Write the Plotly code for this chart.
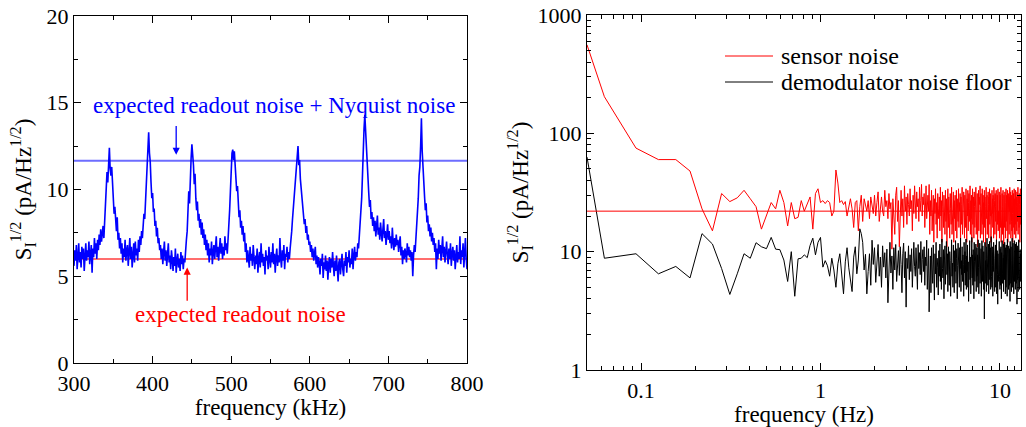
import numpy as np
import plotly.graph_objects as go

# ---------------- left panel data (frequency in kHz, 1 kHz steps) ----------------
freq_khz = np.arange(300, 801, 1)
noise_khz = [
    5.6, 6.5, 5.9, 6.8, 5.4, 6.2, 6.9, 5.8, 6.4, 5.5,
    6.7, 6.0, 6.6, 5.3, 6.3, 6.9, 5.9, 6.5, 6.1, 7.0,
    5.7, 6.4, 6.8, 5.2, 6.6, 6.1, 7.2, 6.3, 6.9, 6.0,
    7.1, 6.5, 7.4, 6.8, 7.7, 7.0, 7.5, 7.9, 7.2, 8.3,
    8.9, 10.2, 11.0, 10.4, 11.8, 12.4, 11.2, 10.8, 11.3, 10.1,
    9.4, 8.6, 9.0, 8.0, 7.6, 8.4, 7.1, 7.5, 6.6, 7.2,
    6.3, 6.9, 5.8, 6.6, 6.1, 7.1, 5.9, 6.5, 6.8, 5.6,
    6.4, 7.2, 6.0, 6.7, 5.5, 6.3, 6.9, 5.8, 7.0, 6.2,
    6.6, 5.9, 7.1, 6.4, 7.3, 6.8, 7.6, 7.2, 8.0, 8.6,
    8.3, 9.4, 10.3, 11.8, 12.4, 13.3, 12.1, 11.6, 10.4, 9.5,
    9.8, 8.7, 8.9, 7.9, 8.2, 7.3, 7.8, 6.9, 7.2, 6.5,
    6.8, 6.0, 6.6, 5.7, 6.4, 7.0, 5.9, 6.5, 5.6, 6.3,
    6.9, 5.8, 6.2, 5.4, 6.5, 6.0, 5.3, 6.1, 5.6, 6.6,
    5.2, 5.9, 6.3, 5.5, 6.0, 5.3, 6.4, 5.7, 6.2, 5.4,
    6.0, 5.8, 6.8, 7.1, 7.6, 8.4, 9.9, 9.2, 11.0, 11.8,
    12.6, 12.1, 11.4, 10.3, 10.9, 9.5, 8.8, 9.3, 8.2, 8.6,
    7.8, 8.3, 7.4, 8.1, 7.2, 7.7, 6.8, 7.4, 6.5, 7.1,
    6.2, 6.9, 5.8, 6.6, 6.2, 7.0, 5.7, 6.4, 6.8, 6.0,
    6.6, 7.3, 6.1, 6.7, 5.9, 6.5, 7.2, 6.3, 6.9, 6.0,
    6.7, 6.2, 7.3, 6.5, 6.9, 6.3, 7.5, 8.1, 8.8, 9.9,
    11.2, 12.1, 12.3, 11.7, 12.2, 11.5, 10.6, 9.9, 10.2, 8.9,
    8.4, 8.8, 7.8, 8.2, 7.4, 7.9, 7.0, 7.5, 6.4, 6.9,
    5.8, 6.5, 6.1, 5.5, 6.7, 5.9, 6.3, 5.6, 6.8, 6.0,
    5.4, 6.2, 5.7, 6.6, 5.2, 6.0, 6.4, 5.5, 6.9, 5.8,
    6.3, 5.6, 6.1, 5.1, 6.5, 5.9, 6.2, 5.4, 6.7, 6.0,
    5.5, 6.4, 5.8, 6.9, 5.7, 6.3, 5.2, 6.1, 6.6, 5.6,
    6.2, 5.8, 7.2, 6.0, 5.5, 6.5, 5.9, 6.8, 5.4, 6.3,
    6.1, 6.7, 5.8, 6.4, 6.0, 6.6, 7.0, 7.6, 8.3, 8.9,
    9.6, 10.5, 11.1, 11.8, 12.0, 12.5, 11.4, 11.7, 10.6, 10.1,
    9.7, 9.1, 8.5, 8.0, 8.3, 7.5, 7.9, 7.1, 7.4, 6.8,
    7.0, 6.4, 6.8, 6.1, 6.6, 5.9, 6.3, 6.7, 5.7, 6.2,
    5.5, 6.1, 5.8, 5.1, 6.0, 5.6, 6.3, 4.9, 5.8, 5.4,
    6.2, 5.3, 5.9, 4.8, 5.7, 6.1, 5.2, 6.0, 5.5, 6.4,
    5.6, 5.0, 5.9, 5.3, 6.2, 5.5, 4.7, 5.8, 6.0, 5.1,
    5.7, 6.3, 5.4, 5.0, 5.9, 5.6, 6.4, 5.2, 6.1, 5.8,
    6.5, 5.5, 6.0, 5.7, 6.6, 5.4, 6.2, 6.7, 5.9, 6.4,
    6.1, 6.9, 6.6, 7.3, 7.8, 8.6, 9.5, 10.8, 12.6, 13.5,
    14.3, 13.2, 12.4, 11.3, 10.5, 9.8, 9.0, 9.4, 8.3, 8.7,
    7.9, 8.4, 7.6, 8.2, 7.3, 7.9, 8.5, 7.4, 7.8, 7.1,
    8.1, 7.5, 7.0, 7.7, 8.3, 7.2, 7.6, 6.8, 7.4, 8.0,
    7.1, 7.6, 6.9, 7.3, 6.6, 7.8, 7.0, 6.5, 7.2, 6.7,
    7.4, 6.8, 7.1, 6.4, 6.9, 7.3, 6.2, 6.7, 5.7, 6.5,
    6.0, 6.6, 6.3, 5.8, 6.9, 6.2, 6.7, 6.1, 6.5, 5.9,
    6.4, 5.0, 6.2, 6.8, 6.4, 7.1, 7.6, 8.3, 9.5, 10.8,
    11.3, 12.5, 14.1, 12.2, 11.0, 10.4, 9.6, 8.8, 9.2, 8.1,
    8.5, 7.6, 8.0, 7.3, 7.8, 7.0, 7.5, 6.8, 7.2, 6.4,
    6.9, 5.4, 6.6, 6.0, 7.1, 6.3, 6.8, 5.9, 6.5, 7.3,
    6.1, 6.7, 5.8, 6.4, 7.0, 6.2, 5.7, 6.6, 6.0, 6.9,
    5.6, 6.3, 6.7, 5.9, 6.5, 5.4, 6.2, 6.8, 5.8, 6.4,
    6.0, 7.3, 5.7, 6.5, 6.1, 6.9, 5.5, 6.3, 7.2, 6.0,
    5.4,
]
readout_nyquist_level = 11.65
readout_level = 6.0

# ---------------- right panel data (frequency in Hz, 1/32 Hz bins) ----------------
freq_hz = np.concatenate([[0.05], np.arange(2, 420) / 32.0])
sensor_noise = [
    560,
    204, 75, 60, 60, 48, 23, 15, 31,
    26.5, 28.5, 33, 28, 24, 15.5, 20, 26, 23, 33,
    26, 16.5, 26, 19, 19.5, 27, 22, 25.5, 29, 15.5,
    31, 34, 26, 27, 25.5, 27, 26, 20, 22, 49,
    38, 26, 27, 25, 26.5, 20, 24, 28, 23, 16,
    26, 27, 15, 24, 30, 18, 28, 25, 22, 27,
    19, 29, 23, 21, 30, 20, 26, 32, 18, 25,
    29, 22, 20, 33, 24, 27, 19, 31, 23, 26,
    10.5, 28, 21, 14, 30, 35, 18, 27, 11, 24,
    33, 20, 28, 16, 36, 22, 29, 17, 31, 25,
    20, 34, 23, 27, 15, 30, 21, 36, 26, 19,
    32, 24, 28, 18, 35, 22, 27, 37, 20, 29,
    25, 31, 16, 28, 36, 19, 26, 30, 22, 37,
    14, 27, 20, 33, 15, 25, 30, 12, 28, 21,
    34, 17, 26, 13, 31, 23, 19, 29, 15, 35,
    20, 27, 12, 32, 24, 16, 30, 22, 14, 33,
    18, 28, 11, 25, 34, 16, 29, 21, 13, 31,
    23, 17, 35, 14, 26, 20, 32, 12, 27, 19,
    30, 15, 24, 33, 13, 28, 21, 18, 34, 16,
    26, 22, 31, 11, 29, 17, 25, 35, 14, 23,
    19, 32, 27, 13, 30, 24, 16, 34, 21, 12,
    28, 20, 33, 15, 26, 31, 18, 23, 36, 14,
    27, 19, 30, 12, 25, 34, 17, 22, 29, 13,
    32, 24, 16, 28, 21, 35, 14, 26, 19, 31,
    11, 27, 23, 33, 15, 29, 20, 25, 36, 13,
    24, 31, 18, 28, 14, 34, 22, 17, 30, 12,
    26, 21, 33, 16, 29, 24, 11, 27, 35, 19,
    23, 30, 14, 28, 18, 32, 25, 13, 29, 22,
    34, 17, 26, 20, 31, 12, 27, 24, 15, 33,
    21, 28, 16, 30, 25, 13, 35, 19, 27, 22,
    14, 31, 24, 18, 29, 33, 12, 26, 20, 30,
    17, 25, 34, 15, 28, 22, 19, 32, 13, 27,
    23, 30, 16, 26, 35, 12, 29, 21, 18, 31,
    24, 14, 28, 33, 19, 25, 11, 30, 22, 27,
    16, 32, 20, 29, 13, 26, 34, 18, 24, 30,
    15, 27, 21, 33, 12, 28, 23, 19, 31, 25,
    14, 29, 22, 35, 17, 26, 20, 32, 13, 28,
    24, 18, 30, 15, 27, 33, 21, 12, 29, 25,
    19, 31, 16, 26, 34, 14, 28, 22, 30, 17,
    25, 33, 13, 27, 20, 29, 24, 15, 32, 21,
    28, 18, 26, 35, 14, 23, 30, 19, 27, 16,
    31, 22, 25, 12, 29, 20, 34, 17, 26, 22,
]
demod_noise = [
    63,
    8.8, 9.6, 6.5, 7.5, 6.0, 14.2, 11.6, 7.2,
    4.35, 6.5, 9.6, 8.8, 11.9, 11.0, 10.6, 13.2, 10.5, 10.4,
    8.5, 5.6, 10.0, 4.2, 8.7, 8.8, 9.4, 8.9, 11.3, 13.0,
    9.4, 12.0, 13.2, 7.4, 8.4, 7.6, 6.2, 8.8, 7.0, 5.0,
    7.9, 9.6, 6.0, 4.4, 8.2, 10.8, 7.3, 5.6, 4.6, 9.0,
    11.0, 6.5, 8.5, 15.6, 14.2, 12.0, 7.0, 9.5, 4.4, 6.8,
    9.6, 5.2, 12.5, 7.8, 10.8, 5.5, 8.6, 11.5, 6.2, 9.0,
    5.0, 11.2, 7.4, 9.8, 6.0, 10.5, 3.7, 8.5, 12.0, 6.6,
    9.2, 4.8, 10.8, 7.0, 11.5, 5.6, 8.4, 10.2, 6.3, 11.0,
    7.8, 4.5, 9.6, 11.8, 6.0, 10.0, 3.4, 8.8, 7.2, 11.2,
    5.8, 9.4, 6.8, 10.6, 5.0, 8.2, 12.0, 7.5, 6.2, 10.8,
    8.0, 4.8, 11.5, 7.2, 9.8, 6.4, 12.2, 5.5, 8.6, 10.4,
    6.8, 11.0, 5.2, 9.0, 7.6, 12.5, 4.8, 8.4, 10.6, 3.1,
    6.0, 9.2, 4.5, 10.8, 7.0, 5.4, 11.4, 8.0, 3.9, 9.6,
    6.5, 12.0, 5.0, 8.8, 7.4, 4.3, 10.2, 6.2, 11.6, 5.6,
    9.0, 4.8, 12.8, 7.2, 6.0, 10.4, 4.0, 8.5, 11.2, 5.3,
    8.0, 12.2, 6.4, 9.6, 4.6, 11.0, 7.0, 5.2, 10.0, 8.4,
    4.2, 9.4, 12.6, 6.2, 8.0, 5.0, 11.4, 7.4, 4.5, 10.2,
    6.8, 12.4, 5.4, 8.8, 10.6, 4.0, 7.6, 11.8, 6.0, 9.0,
    5.0, 10.8, 7.2, 13.0, 4.6, 8.4, 6.4, 11.0, 5.6, 9.4,
    7.8, 4.2, 12.0, 6.6, 10.0, 5.2, 8.6, 12.8, 4.8, 9.2,
    6.8, 11.4, 5.0, 8.2, 3.8, 10.6, 7.2, 12.4, 5.8, 9.0,
    4.4, 11.0, 7.6, 13.2, 6.0, 9.4, 5.2, 10.4, 7.0, 4.0,
    12.0, 8.2, 5.6, 9.8, 6.6, 11.6, 4.6, 8.0, 10.8, 6.2,
    9.4, 5.0, 12.6, 7.4, 4.4, 10.2, 6.8, 11.8, 5.4, 8.6,
    6.0, 10.6, 4.2, 9.0, 12.4, 7.0, 5.6, 11.2, 8.0, 4.8,
    10.0, 6.4, 2.7, 9.2, 12.0, 5.4, 8.4, 7.0, 11.0, 4.6,
    8.8, 13.0, 6.0, 10.4, 5.2, 7.8, 11.6, 4.4, 9.6, 6.6,
    12.2, 5.8, 8.6, 10.8, 4.8, 7.4, 13.4, 6.2, 9.0, 5.0,
    11.0, 7.6, 4.2, 9.8, 6.8, 12.0, 5.4, 8.2, 10.4, 4.6,
    8.8, 6.0, 11.4, 5.0, 9.4, 7.2, 12.6, 4.4, 8.0, 10.2,
    6.4, 3.6, 9.6, 7.0, 11.8, 5.6, 8.4, 12.2, 6.2, 9.2,
    4.8, 10.6, 7.4, 5.2, 11.0, 8.6, 4.0, 9.8, 6.6, 12.4,
    7.8, 5.4, 10.0, 6.0, 8.8, 4.6, 11.6, 7.2, 9.4, 5.8,
    12.0, 6.8, 9.0, 4.4, 10.8, 7.6, 5.0, 11.4, 8.2, 6.4,
    9.6, 4.2, 12.8, 7.0, 5.6, 10.2, 8.0, 4.8, 11.2, 6.6,
    8.8, 5.2, 10.6, 7.4, 3.8, 12.2, 6.0, 9.2, 5.4, 11.0,
    7.2, 4.6, 10.0, 8.4, 13.0, 6.2, 9.6, 5.0, 11.8, 7.6,
    6.0, 9.4, 4.4, 10.8, 7.8, 12.4, 5.6, 8.6, 6.8, 10.2,
    4.8, 11.6, 7.0, 9.0, 5.4, 12.0, 6.4, 8.2, 3.6, 10.6,
    7.4, 5.8, 11.2, 8.0, 4.6, 9.8, 6.6, 12.6, 5.2, 9.2,
    7.0, 11.0, 4.8, 8.8, 6.2, 10.4, 5.6, 9.6, 7.8, 6.4,
]
sensor_floor_level = 22.0

x_ticks_left = [300, 400, 500, 600, 700, 800]
y_ticks_left = [0, 5, 10, 15, 20]
x_ticks_right = [0.1, 1, 10]
x_ticktext_right = ["0.1", "1", "10"]
y_ticks_right = [1, 10, 100, 1000]
y_ticktext_right = ["1", "10", "100", "1000"]

n1 = min(len(freq_khz), len(noise_khz))
n2 = min(len(freq_hz), len(sensor_noise), len(demod_noise))

FONT = "Liberation Serif, Times New Roman, serif"
W, H = 1026, 427


def px(x):   # window pixel -> paper x
    return x / W


def py(y):   # window pixel -> paper y
    return 1 - y / H


fig = go.Figure()

fig.add_trace(go.Scatter(x=freq_khz[:n1], y=noise_khz[:n1], mode="lines",
                         line=dict(color="#0000ff", width=1.6),
                         xaxis="x", yaxis="y", showlegend=False))

fig.add_trace(go.Scatter(x=freq_hz[:n2], y=sensor_noise[:n2], mode="lines",
                         line=dict(color="#ff0000", width=1),
                         xaxis="x2", yaxis="y2", showlegend=False))
fig.add_trace(go.Scatter(x=freq_hz[:n2], y=demod_noise[:n2], mode="lines",
                         line=dict(color="#000000", width=1),
                         xaxis="x2", yaxis="y2", showlegend=False))

shapes = [
    dict(type="line", xref="x domain", yref="y", x0=0, x1=1,
         y0=readout_nyquist_level, y1=readout_nyquist_level,
         line=dict(color="rgba(60,60,255,0.75)", width=2), layer="below"),
    dict(type="line", xref="x domain", yref="y", x0=0, x1=1,
         y0=readout_level, y1=readout_level,
         line=dict(color="rgba(255,60,60,0.75)", width=2), layer="below"),
    dict(type="line", xref="x2 domain", yref="y2", x0=0, x1=1,
         y0=sensor_floor_level, y1=sensor_floor_level,
         line=dict(color="#ff0000", width=1)),
    # legend samples
    dict(type="line", xref="paper", yref="paper", x0=px(725), x1=px(773),
         y0=py(56), y1=py(56), line=dict(color="#ff0000", width=1)),
    dict(type="line", xref="paper", yref="paper", x0=px(725), x1=px(773),
         y0=py(82), y1=py(82), line=dict(color="#000000", width=1)),
]

annotations = [
    dict(x=554, y=14.87, xref="x", yref="y", text="expected readout noise + Nyquist noise",
         showarrow=False, font=dict(family=FONT, size=23, color="#0000ff")),
    dict(x=512, y=2.82, xref="x", yref="y", text="expected readout noise",
         showarrow=False, font=dict(family=FONT, size=23, color="#ff0000")),
    dict(x=430, y=12.0, ax=430, ay=13.75, xref="x", yref="y", axref="x", ayref="y",
         text="", showarrow=True, arrowhead=2, arrowsize=1.1, arrowwidth=1.3,
         arrowcolor="#0000ff"),
    dict(x=444, y=5.5, ax=444, ay=3.5, xref="x", yref="y", axref="x", ayref="y",
         text="", showarrow=True, arrowhead=2, arrowsize=1.1, arrowwidth=1.3,
         arrowcolor="#ff0000"),
    dict(x=px(779), y=py(56), xref="paper", yref="paper", text="sensor noise",
         xanchor="left", yanchor="middle", showarrow=False,
         font=dict(family=FONT, size=24, color="#000000")),
    dict(x=px(779), y=py(82), xref="paper", yref="paper", text="demodulator noise floor",
         xanchor="left", yanchor="middle", showarrow=False,
         font=dict(family=FONT, size=24, color="#000000")),
]

axis_common = dict(showline=True, linecolor="black", linewidth=1.2, mirror="ticks",
                   ticks="inside", ticklen=7, tickwidth=1, tickcolor="black",
                   showgrid=False, zeroline=False, automargin=False,
                   tickfont=dict(family=FONT, size=22, color="black"))

ytitle = "S<sub>I</sub><sup>1/2</sup> (pA/Hz<sup>1/2</sup>)"

minor_x2 = [m * d for d in (0.01, 0.1, 1) for m in range(2, 10)] + [11, 12, 13]
minor_x2 = [v for v in minor_x2 if 0.05 <= v <= 13.1]
minor_y2 = [m * d for d in (1, 10, 100) for m in range(2, 10)]

fig.update_layout(
    width=W, height=H,
    margin=dict(l=0, r=0, t=0, b=0, pad=0),
    autosize=False,
    paper_bgcolor="white", plot_bgcolor="white",
    font=dict(family=FONT, color="black"),
    showlegend=False,
    xaxis=dict(**axis_common, domain=[px(74), px(467)], anchor="y",
               range=[300, 800], tickvals=x_ticks_left,
               minor=dict(ticks="inside", ticklen=4, dtick=50, tick0=300, tickcolor="black"),
               title=dict(text="frequency (kHz)", font=dict(family=FONT, size=23), standoff=2)),
    yaxis=dict(**axis_common, domain=[py(363), py(16)], anchor="x",
               range=[0, 20], tickvals=y_ticks_left,
               minor=dict(ticks="inside", ticklen=4, dtick=2.5, tick0=0, tickcolor="black"),
               title=dict(text=ytitle, font=dict(family=FONT, size=23), standoff=8)),
    xaxis2=dict(**axis_common, domain=[px(587), px(1021)], anchor="y2", type="log",
                range=[np.log10(0.05), np.log10(13.1)],
                tickvals=x_ticks_right, ticktext=x_ticktext_right,
                minor=dict(ticks="inside", ticklen=4, tickvals=minor_x2, tickcolor="black"),
                title=dict(text="frequency (Hz)", font=dict(family=FONT, size=23), standoff=2)),
    yaxis2=dict(**axis_common, domain=[py(370), py(15)], anchor="x2", type="log",
                range=[0, 3], tickvals=y_ticks_right, ticktext=y_ticktext_right,
                minor=dict(ticks="inside", ticklen=4, tickvals=minor_y2, tickcolor="black"),
                title=dict(text=ytitle, font=dict(family=FONT, size=23), standoff=2)),
    shapes=shapes,
    annotations=annotations,
)

fig.write_html(
    "out.html",
    config={"displayModeBar": False},
    post_script="document.body.style.margin='0';"
                "document.documentElement.style.overflow='hidden';",
)
